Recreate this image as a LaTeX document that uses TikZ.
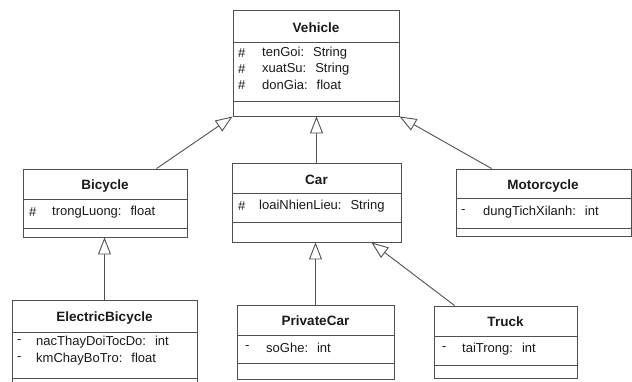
\documentclass[tikz,border=0pt]{standalone}
\usepackage{fontspec}
\setmainfont{Liberation Sans}
\usetikzlibrary{arrows.meta}
\definecolor{linec}{HTML}{505050}
\definecolor{textc}{HTML}{1A1A1A}

% class box: name, left, top, right, bottom, first divider, second divider
\newcommand{\umlclass}[7]{%
  \node[classbox, minimum width={#4pt-#2pt}, minimum height={#5pt-#3pt}]
    (#1) at ({(#2+#4)/2},{(#3+#5)/2}) {};
  \draw[divider] (#2,#6) -- (#4,#6);
  \draw[divider] (#2,#7) -- (#4,#7);
}
\newcommand{\colgap}{\hspace{9pt}}

\begin{document}
\begin{tikzpicture}[x=1pt, y=-1pt,
  classbox/.style={draw=linec, line width=0.9pt, rectangle, inner sep=0pt, fill=white},
  divider/.style={draw=linec, line width=0.9pt},
  title/.style={text=textc, font=\fontsize{13.5}{16}\selectfont\bfseries, inner sep=0pt},
  attr/.style={text=textc, font=\fontsize{13}{15}\selectfont, anchor=west, inner sep=0pt},
  inherit/.style={draw=linec, line width=0.9pt,
    -{Triangle[open, length=17pt, width=13pt, fill=white]}}]

\clip (0,0) rectangle (632,381);
\fill[white] (0,0) rectangle (632,381);

% ---- classes ----
\umlclass{vehicle}{233}{10}{399}{116}{42}{101}
\node[title] (vehicle-t) at (316,28) {Vehicle};
\node[attr] (vehicle-m1) at (238,53) {\#};
\node[attr] (vehicle-a1) at (262,53) {tenGoi:\colgap String};
\node[attr] (vehicle-m2) at (238,69) {\#};
\node[attr] (vehicle-a2) at (262,69) {xuatSu:\colgap String};
\node[attr] (vehicle-m3) at (238,85) {\#};
\node[attr] (vehicle-a3) at (262,85) {donGia:\colgap float};

\umlclass{bicycle}{23}{169}{187}{237}{199}{228}
\node[title] (bicycle-t) at (105,186) {Bicycle};
\node[attr] (bicycle-m1) at (29,212) {\#};
\node[attr] (bicycle-a1) at (52,212) {trongLuong:\colgap float};

\umlclass{car}{232}{163}{401}{242}{193}{222}
\node[title] (car-t) at (316.5,180) {Car};
\node[attr] (car-m1) at (238,206) {\#};
\node[attr] (car-a1) at (259,206) {loaiNhienLieu:\colgap String};

\umlclass{motor}{456}{169}{631}{236}{198}{228}
\node[title] (motor-t) at (543,186) {Motorcycle};
\node[attr] (motor-m1) at (461,212) {-};
\node[attr] (motor-a1) at (483,212) {dungTichXilanh:\colgap int};

\umlclass{ebike}{12}{300}{197}{395}{332}{378}
\node[title] (ebike-t) at (104.5,318) {ElectricBicycle};
\node[attr] (ebike-m1) at (17,342) {-};
\node[attr] (ebike-a1) at (36,342) {nacThayDoiTocDo:\colgap int};
\node[attr] (ebike-m2) at (17,359) {-};
\node[attr] (ebike-a2) at (36,359) {kmChayBoTro:\colgap float};

\umlclass{pcar}{237}{305}{394}{379}{335}{363}
\node[title] (pcar-t) at (315.5,321) {PrivateCar};
\node[attr] (pcar-m1) at (245,348) {-};
\node[attr] (pcar-a1) at (266,348) {soGhe:\colgap int};

\umlclass{truck}{434}{306}{577}{378}{336}{365}
\node[title] (truck-t) at (505.5,322) {Truck};
\node[attr] (truck-m1) at (442,349) {-};
\node[attr] (truck-a1) at (462,349) {taiTrong:\colgap int};

% ---- generalisations ----
\draw[inherit] ([xshift=134pt]bicycle.north west) -- (vehicle.south west);
\draw[inherit] (car.north) -- (car.north |- vehicle.south);
\draw[inherit] ([xshift=36pt]motor.north west) -- (vehicle.south east);
\draw[inherit] (ebike.north) -- (ebike.north |- bicycle.south);
\draw[inherit] (pcar.north) -- (pcar.north |- car.south);
\draw[inherit] ([xshift=21pt]truck.north west) -- ([xshift=-30pt]car.south east);

\end{tikzpicture}
\end{document}
